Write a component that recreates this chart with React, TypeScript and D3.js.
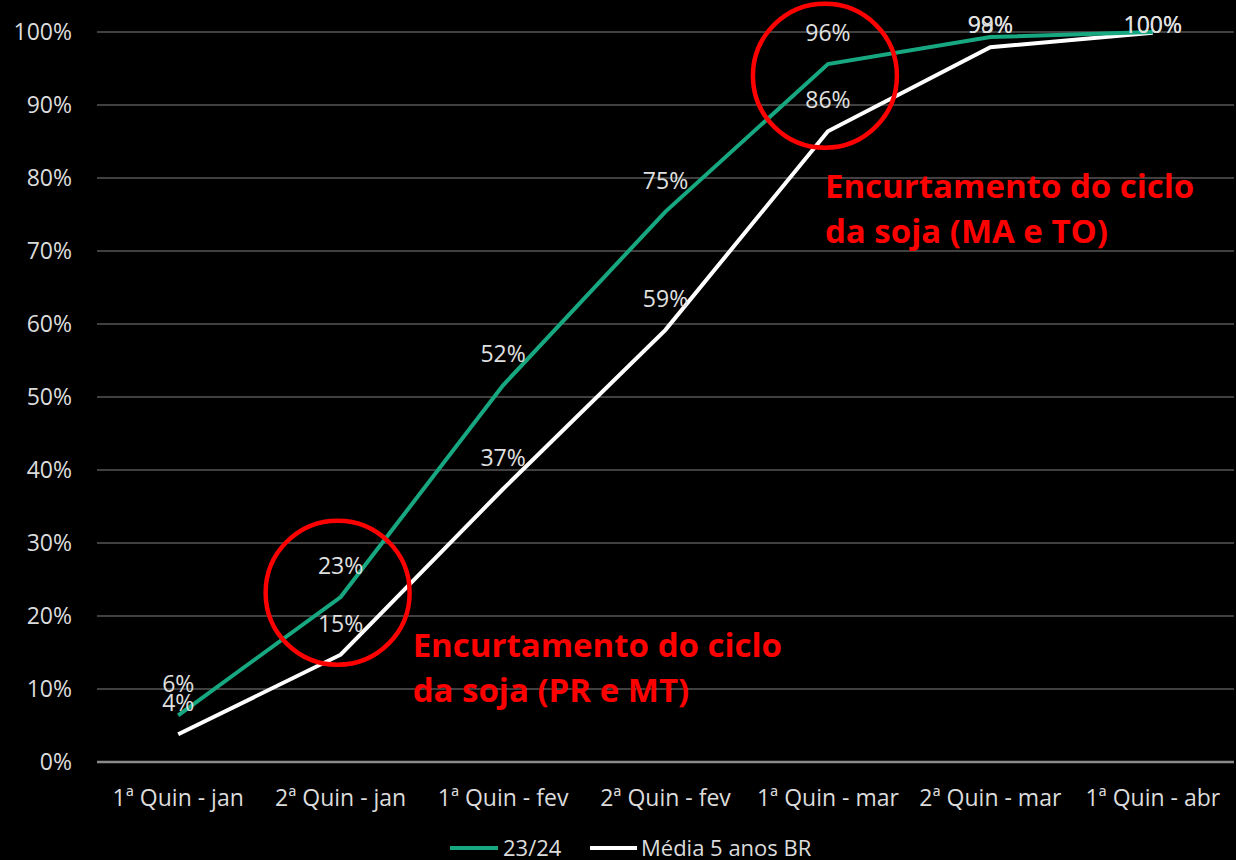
import React from "react";
import * as d3 from "d3";

const categories = [
  "1ª Quin - jan",
  "2ª Quin - jan",
  "1ª Quin - fev",
  "2ª Quin - fev",
  "1ª Quin - mar",
  "2ª Quin - mar",
  "1ª Quin - abr",
];
const safra2324 = [6.4, 22.6, 51.6, 75.4, 95.6, 99.3, 100];
const media5anos = [3.8, 14.7, 37.4, 59.2, 86.4, 97.9, 99.9];
const yTicks = [0, 10, 20, 30, 40, 50, 60, 70, 80, 90, 100];

const GREEN = "#17a881";
const FONT = "'Open Sans', 'Noto Sans', sans-serif";

const W = 1236;
const H = 860;
const margins = { left: 97, right: 2, top: 32, bottom: 98 };

const App = () => {
  const width = W - margins.left - margins.right;
  const height = H - margins.top - margins.bottom;

  // scales
  const xScale = d3.scaleBand().domain(categories).range([0, width]);
  const yScale = d3.scaleLinear().domain([0, 100]).range([height, 0]);
  const cx = (i: number) => (xScale(categories[i]) ?? 0) + xScale.bandwidth() / 2;

  const line = d3
    .line<number>()
    .x((_, i) => cx(i))
    .y(d => yScale(d));

  // labels sit above the point, but not above the top of the plot
  const labelY = (v: number) => Math.max(yScale(v) - 23, 1);

  const series = [
    { name: "23/24", values: safra2324, color: GREEN },
    { name: "Média 5 anos BR", values: media5anos, color: "#ffffff" },
  ];

  return (
    <svg
      width={W}
      height={H}
      style={{ position: "absolute", left: 0, top: 0, background: "#000" }}
      fontFamily={FONT}
    >
      <rect width={W} height={H} fill="#000" />
      <g transform={`translate(${margins.left}, ${margins.top})`}>
        {/* grid */}
        {yTicks.map(t => (
          <line
            key={t}
            x1={0}
            x2={width}
            y1={yScale(t)}
            y2={yScale(t)}
            stroke={t === 0 ? "#8a8a8a" : "#404040"}
            strokeWidth={t === 0 ? 2.5 : 2}
          />
        ))}
        {yTicks.map(t => (
          <text
            key={"l" + t}
            x={-25}
            y={yScale(t)}
            dy="0.35em"
            textAnchor="end"
            fontSize={23}
            fill="#dcdcdc"
          >
            {t}%
          </text>
        ))}
        {categories.map((c, i) => (
          <text
            key={c}
            x={cx(i)}
            y={height + 44}
            textAnchor="middle"
            fontSize={23}
            fill="#dcdcdc"
          >
            {c}
          </text>
        ))}

        {/* lines */}
        {series
          .slice()
          .reverse()
          .map(s => (
            <path
              key={s.name}
              d={line(s.values) ?? ""}
              fill="none"
              stroke={s.color}
              strokeWidth={4}
              strokeLinejoin="miter"
            />
          ))}

        {/* data labels */}
        {series.map(s =>
          s.values.map((v, i) => (
            <text
              key={s.name + i}
              x={cx(i)}
              y={labelY(v)}
              textAnchor="middle"
              fontSize={23}
              fill="#e0e0e0"
            >
              {Math.round(v)}%
            </text>
          ))
        )}

        {/* annotations */}
        <circle
          cx={cx(1) - 3}
          cy={yScale(23.2)}
          r={72}
          fill="none"
          stroke="#ff0000"
          strokeWidth={4.5}
        />
        <circle
          cx={cx(4) - 3}
          cy={yScale(94)}
          r={72}
          fill="none"
          stroke="#ff0000"
          strokeWidth={4.5}
        />
        <text y={yScale(14.4)} fontSize={33} fontWeight="bold" fill="#ff0000">
          <tspan x={cx(1) + 72}>Encurtamento do ciclo</tspan>
          <tspan x={cx(1) + 72} dy={45}>da soja (PR e MT)</tspan>
        </text>
        <text y={yScale(77.3)} fontSize={33} fontWeight="bold" fill="#ff0000">
          <tspan x={cx(4) - 3}>Encurtamento do ciclo</tspan>
          <tspan x={cx(4) - 3} dy={45}>da soja (MA e TO)</tspan>
        </text>
      </g>

      {/* legend */}
      <g transform="translate(450, 848)">
        <line x1={0} x2={48} y1={0} y2={0} stroke={GREEN} strokeWidth={4} />
        <text x={53} y={0} dy="0.35em" fontSize={22} fill="#dcdcdc">
          23/24
        </text>
        <line x1={140} x2={187} y1={0} y2={0} stroke="#fff" strokeWidth={4} />
        <text x={191} y={0} dy="0.35em" fontSize={22} fill="#dcdcdc">
          Média 5 anos BR
        </text>
      </g>
    </svg>
  );
};

export default App;
